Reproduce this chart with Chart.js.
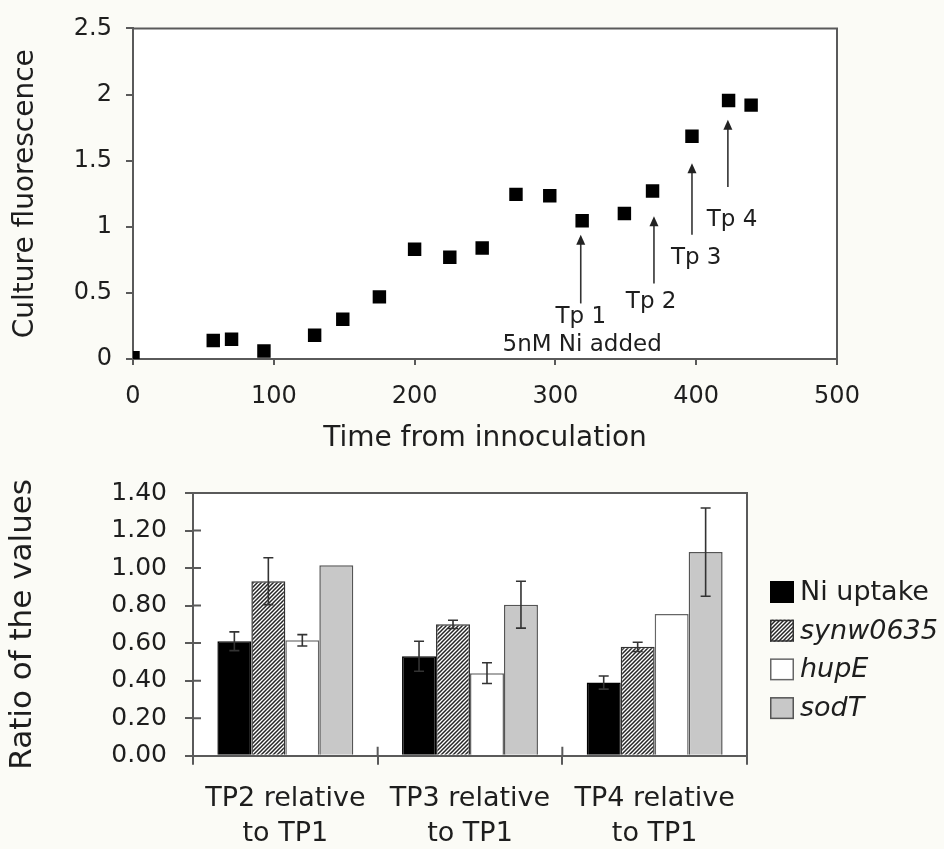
<!DOCTYPE html>
<html>
<head>
<meta charset="utf-8">
<title>Culture fluorescence and Ni uptake ratios</title>
<script src="https://cdn.jsdelivr.net/npm/chart.js@4/dist/chart.umd.min.js"></script>
<style>
  body { margin: 0; background: #fbfbf6; }
  #wrap { position: relative; width: 944px; height: 849px; }
  #growth { position: absolute; left: 0; top: 0; }
  #ratios { position: absolute; left: 0; top: 460px; }
</style>
</head>
<body>
<div id="wrap">
  <canvas id="growth" width="944" height="460"></canvas>
  <canvas id="ratios" width="944" height="389"></canvas>
</div>
<script>
// growth curve: time from innoculation vs culture fluorescence
const times = [0, 57, 70, 93, 129, 149, 175, 200, 225, 248, 272, 296, 319, 349, 369, 397, 423, 439];
const fluorescence = [0.01, 0.14, 0.15, 0.06, 0.18, 0.30, 0.47, 0.83, 0.77, 0.84, 1.245, 1.235, 1.045, 1.10, 1.27, 1.685, 1.955, 1.92];

// sampling-point arrows, in data units (x, tail y, head y)
const arrows = [
  { x: 318, from: 0.42, to: 0.94 },
  { x: 370, from: 0.57, to: 1.08 },
  { x: 397, from: 0.94, to: 1.48 },
  { x: 422.5, from: 1.30, to: 1.81 }
];
const notes = [
  { text: "Tp 1", x: 318, y: 0.317 },
  { text: "5nM Ni added", x: 319, y: 0.105 },
  { text: "Tp 2", x: 368, y: 0.43 },
  { text: "Tp 3", x: 400, y: 0.766 },
  { text: "Tp 4", x: 425.5, y: 1.053 }
];

// ratios relative to TP1
const groups = [["TP2 relative", "to TP1"], ["TP3 relative", "to TP1"], ["TP4 relative", "to TP1"]];
const seriesNames = ["Ni uptake", "synw0635", "hupE", "sodT"];
const niUptake = [0.61, 0.53, 0.39];
const synw0635 = [0.93, 0.70, 0.58];
const hupE = [0.615, 0.44, 0.755];
const sodT = [1.015, 0.805, 1.085];
const niErr = [0.05, 0.08, 0.035];
const synErr = [0.125, 0.022, 0.025];
const hupErr = [0.03, 0.055, 0];
const sodErr = [0, 0.125, 0.235];

const ink = "#1e1e1e";
const axisGrey = "#5a5a5a";
const face = "'DejaVu Sans', Verdana, sans-serif";
Chart.defaults.font.family = face;
Chart.defaults.color = ink;

function hatch() {
  const c = document.createElement("canvas");
  c.width = 4; c.height = 4;
  const g = c.getContext("2d");
  g.fillStyle = "#fff";
  g.fillRect(0, 0, 4, 4);
  g.strokeStyle = "#262626";
  g.lineWidth = 1.5;
  g.beginPath();
  g.moveTo(-1, 5); g.lineTo(5, -1);
  g.moveTo(-1, 1); g.lineTo(1, -1);
  g.moveTo(3, 5); g.lineTo(5, 3);
  g.stroke();
  return g.createPattern(c, "repeat");
}

// white plot area plus the closed frame
const frame = {
  id: "frame",
  beforeDraw(chart) {
    const a = chart.chartArea, ctx = chart.ctx;
    ctx.save();
    ctx.fillStyle = "#fff";
    ctx.fillRect(a.left, a.top, a.right - a.left, a.bottom - a.top);
    ctx.restore();
  },
  afterDraw(chart) {
    const a = chart.chartArea, ctx = chart.ctx;
    ctx.save();
    ctx.strokeStyle = axisGrey;
    ctx.lineWidth = 2;
    ctx.beginPath();
    ctx.moveTo(a.left, a.top);
    ctx.lineTo(a.right, a.top);
    ctx.lineTo(a.right, a.bottom);
    ctx.stroke();
    ctx.restore();
  }
};

const annotate = {
  id: "annotate",
  afterDatasetsDraw(chart) {
    const xs = chart.scales.x, ys = chart.scales.y, ctx = chart.ctx;
    ctx.save();
    ctx.strokeStyle = "#333";
    ctx.fillStyle = "#222";
    ctx.lineWidth = 1.6;
    arrows.forEach(a => {
      const px = xs.getPixelForValue(a.x);
      const y1 = ys.getPixelForValue(a.from);
      const y2 = ys.getPixelForValue(a.to);
      ctx.beginPath();
      ctx.moveTo(px, y1);
      ctx.lineTo(px, y2 + 8);
      ctx.stroke();
      ctx.beginPath();
      ctx.moveTo(px, y2);
      ctx.lineTo(px - 4.5, y2 + 10);
      ctx.lineTo(px + 4.5, y2 + 10);
      ctx.closePath();
      ctx.fill();
    });
    ctx.fillStyle = ink;
    ctx.font = "23px " + face;
    ctx.textAlign = "center";
    ctx.textBaseline = "middle";
    notes.forEach(n => {
      ctx.fillText(n.text, xs.getPixelForValue(n.x), ys.getPixelForValue(n.y));
    });
    ctx.restore();
  }
};

new Chart(document.getElementById("growth"), {
  type: "scatter",
  data: {
    datasets: [{
      data: times.map((t, i) => ({ x: t, y: fluorescence[i] })),
      pointStyle: "rect",
      pointRadius: 9.5,
      backgroundColor: "#000",
      borderColor: "#000",
      borderWidth: 0
    }]
  },
  options: {
    responsive: false,
    animation: false,
    layout: { padding: { top: 25, right: 107, left: 0, bottom: 0 } },
    plugins: { legend: { display: false }, tooltip: { enabled: false } },
    scales: {
      x: {
        type: "linear", min: 0, max: 500,
        ticks: { stepSize: 100, font: { size: 24 }, padding: 17, color: ink },
        grid: { drawOnChartArea: false, tickLength: 6, color: axisGrey, lineWidth: 2 },
        border: { color: axisGrey, width: 2 },
        title: { display: true, text: "Time from innoculation", font: { size: 28 }, color: ink, padding: { top: 0, bottom: 4 } },
        afterFit: s => { s.height = 101; }
      },
      y: {
        min: 0, max: 2.5,
        ticks: { stepSize: 0.5, font: { size: 24 }, padding: 14, color: ink, callback: v => String(+v.toFixed(1)) },
        grid: { drawOnChartArea: false, tickLength: 7, color: axisGrey, lineWidth: 2 },
        border: { color: axisGrey, width: 2 },
        title: { display: true, text: "Culture fluorescence", font: { size: 28 }, color: ink, padding: { top: 9, bottom: 0 } },
        afterFit: s => { s.width = 133; }
      }
    }
  },
  plugins: [frame, annotate]
});

// inward halves of the tick marks, error bars and the side legend
const ratioDecor = {
  id: "ratioDecor",
  afterDatasetsDraw(chart) {
    const ctx = chart.ctx, ys = chart.scales.y, xs = chart.scales.x, a = chart.chartArea;
    const errs = [niErr, synErr, hupErr, sodErr];
    ctx.save();
    ctx.strokeStyle = "#333";
    ctx.lineWidth = 1.6;
    chart.data.datasets.forEach((ds, i) => {
      chart.getDatasetMeta(i).data.forEach((bar, j) => {
        const e = errs[i][j];
        if (!e) return;
        const v = ds.data[j];
        const top = ys.getPixelForValue(v + e), bot = ys.getPixelForValue(v - e);
        ctx.beginPath();
        ctx.moveTo(bar.x, top); ctx.lineTo(bar.x, bot);
        ctx.moveTo(bar.x - 5, top); ctx.lineTo(bar.x + 5, top);
        ctx.moveTo(bar.x - 5, bot); ctx.lineTo(bar.x + 5, bot);
        ctx.stroke();
      });
    });
    ctx.strokeStyle = axisGrey;
    ctx.lineWidth = 2;
    ctx.beginPath();
    ys.ticks.forEach(t => {
      const py = ys.getPixelForValue(t.value);
      if (t.value > 0 && t.value < 1.4) { ctx.moveTo(a.left, py); ctx.lineTo(a.left + 8, py); }
    });
    for (let k = 1; k < groups.length; k++) {
      const px = (xs.getPixelForValue(k - 1) + xs.getPixelForValue(k)) / 2;
      ctx.moveTo(px, a.bottom); ctx.lineTo(px, a.bottom - 9);
    }
    ctx.stroke();
    ctx.restore();
  },
  afterDraw(chart) {
    const ctx = chart.ctx, a = chart.chartArea;
    const x0 = a.right + 23;
    ctx.save();
    ctx.textBaseline = "middle";
    ctx.textAlign = "left";
    chart.data.datasets.forEach((ds, i) => {
      const cy = 132 + i * 38.7;
      ctx.fillStyle = ds.backgroundColor;
      ctx.fillRect(x0, cy - 11, 24, 22);
      ctx.strokeStyle = ds.borderColor;
      ctx.lineWidth = 1.5;
      ctx.strokeRect(x0 + 0.75, cy - 10.25, 22.5, 20.5);
      ctx.fillStyle = ink;
      ctx.font = (i === 0 ? "" : "oblique ") + "27px " + face;
      ctx.fillText(ds.label, x0 + 30, cy + 1);
    });
    ctx.restore();
  }
};

const fills = ["#000", hatch(), "#fff", "#c8c8c8"];
const edges = ["#000", "#333", "#666", "#555"];
const values = [niUptake, synw0635, hupE, sodT];

new Chart(document.getElementById("ratios"), {
  type: "bar",
  data: {
    labels: groups,
    datasets: values.map((v, i) => ({
      label: seriesNames[i],
      data: v,
      backgroundColor: fills[i],
      borderColor: edges[i],
      borderWidth: 1.5,
      categoryPercentage: 0.736,
      barPercentage: 1
    }))
  },
  options: {
    responsive: false,
    animation: false,
    layout: { padding: { top: 29, right: 197, left: 0, bottom: 0 } },
    plugins: { legend: { display: false }, tooltip: { enabled: false } },
    scales: {
      x: {
        ticks: { font: { size: 27, lineHeight: 1.3 }, padding: 17, color: ink, maxRotation: 0, autoSkip: false },
        grid: { drawOnChartArea: false, offset: true, tickLength: 9, color: axisGrey, lineWidth: 2 },
        border: { color: axisGrey, width: 2 },
        afterFit: s => { s.height = 93.3; }
      },
      y: {
        min: 0, max: 1.4,
        ticks: { stepSize: 0.2, font: { size: 25 }, padding: 18, color: ink, callback: v => v.toFixed(2) },
        grid: { drawOnChartArea: false, tickLength: 8, color: axisGrey, lineWidth: 2 },
        border: { color: axisGrey, width: 2 },
        title: { display: true, text: "Ratio of the values", font: { size: 31 }, color: ink, padding: { top: 4, bottom: 0 } },
        afterFit: s => { s.width = 193; }
      }
    }
  },
  plugins: [frame, ratioDecor]
});
</script>
</body>
</html>
